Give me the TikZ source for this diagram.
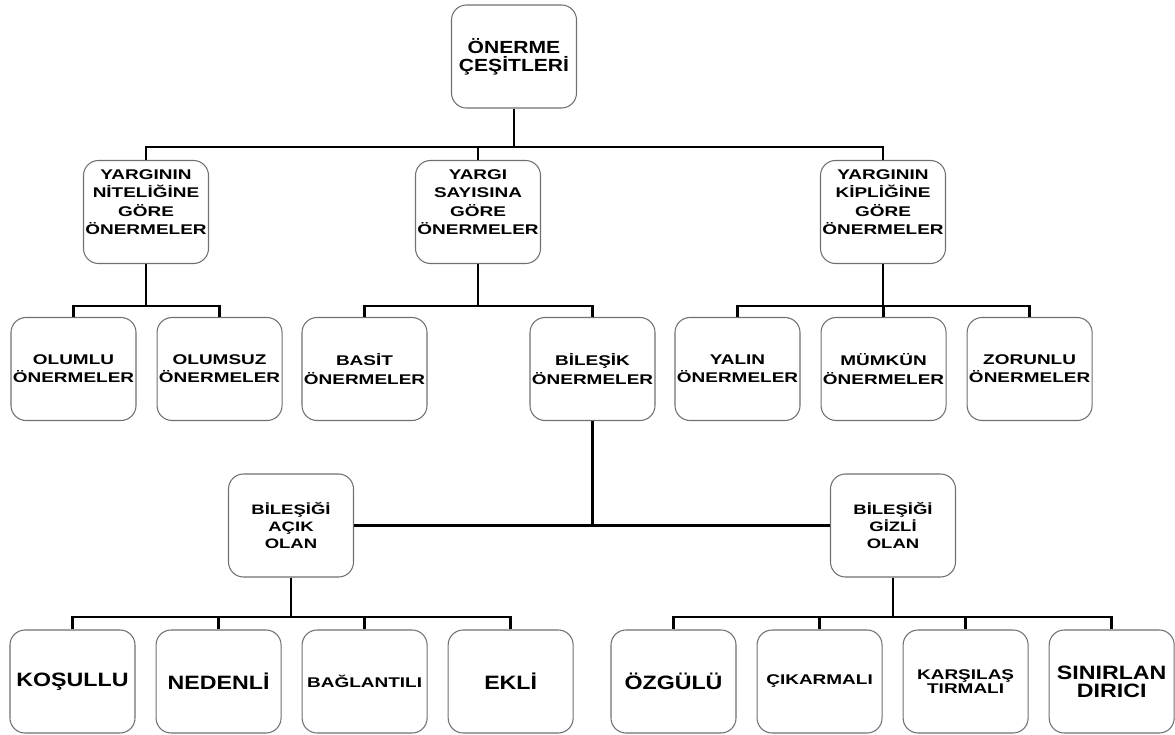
\documentclass[tikz,border=0pt]{standalone}
\usepackage{fontspec}
\setmainfont{Liberation Sans}
\newfontfamily\boxfont[FakeStretch=1.35]{Liberation Sans}
\newfontfamily\bigfont[FakeStretch=1.2]{Liberation Sans}
\usetikzlibrary{positioning}
\definecolor{BoxGray}{HTML}{707070}

\begin{document}
\begin{tikzpicture}[node distance=.4cm,
  box/.style={draw=BoxGray,line width=.6pt,rounded corners=.3cm,fill=white,
    minimum width=2.5cm,minimum height=2.06cm,inner xsep=.5pt,inner ysep=1pt,align=center,
    font=\boxfont\bfseries\fontsize{8}{10.4}\selectfont},
  topbox/.style={box,font=\bigfont\bfseries\fontsize{10}{10.3}\selectfont},
  raisedbox/.style={box,text depth=.4cm},
  midbox/.style={box,font=\boxfont\bfseries\fontsize{7.8}{9.6}\selectfont},
  bigbox/.style={box,font=\bigfont\bfseries\fontsize{11}{10.3}\selectfont},
  tightbox/.style={box,font=\boxfont\bfseries\fontsize{8}{7}\selectfont},
  conn/.style={line width=1.5pt}]
\useasboundingbox (0,0) rectangle (23.5,-14.7);
% levels
\node[topbox] (onerme) at (10.28,-1.13) {ÖNERME\\ÇEŞİTLERİ};
\node[raisedbox] (nitelik) at (2.92,-4.24) {YARGININ\\NİTELİĞİNE\\GÖRE\\ÖNERMELER};
\node[raisedbox] (sayi) at (9.56,-4.24) {YARGI\\SAYISINA\\GÖRE\\ÖNERMELER};
\node[raisedbox] (kiplik) at (17.66,-4.24) {YARGININ\\KİPLİĞİNE\\GÖRE\\ÖNERMELER};
\node[box] (olumlu) at (1.47,-7.38) {OLUMLU\\ÖNERMELER};
\node[box,right=of olumlu] (olumsuz) {OLUMSUZ\\ÖNERMELER};
\node[box] (basit) at (7.29,-7.38) {BASİT\\ÖNERMELER};
\node[box] (bilesik) at (11.85,-7.38) {BİLEŞİK\\ÖNERMELER};
\node[box] (yalin) at (14.75,-7.38) {YALIN\\ÖNERMELER};
\node[box,right=of yalin] (mumkun) {MÜMKÜN\\ÖNERMELER};
\node[box,right=of mumkun] (zorunlu) {ZORUNLU\\ÖNERMELER};
\node[midbox] (acik) at (5.82,-10.51) {BİLEŞİĞİ\\AÇIK\\OLAN};
\node[midbox] (gizli) at (17.86,-10.51) {BİLEŞİĞİ\\GİZLİ\\OLAN};
\node[bigbox] (kosullu) at (1.45,-13.63) {KOŞULLU};
\node[bigbox,right=of kosullu] (nedenli) {NEDENLİ};
\node[box,right=of nedenli] (baglantili) {BAĞLANTILI};
\node[bigbox,right=of baglantili] (ekli) {EKLİ};
\node[bigbox] (ozgulu) at (13.47,-13.63) {ÖZGÜLÜ};
\node[box,right=of ozgulu] (cikarmali) {ÇIKARMALI};
\node[tightbox,right=of cikarmali] (karsilas) {KARŞILAŞ\\TIRMALI};
\node[bigbox,right=of karsilas] (sinirlan) {SINIRLAN\\DIRICI};
% buses
\coordinate (bus1) at (0,-2.94);
\coordinate (bus2) at (0,-6.12);
\coordinate (bus3) at (0,-12.34);
\draw[conn] (onerme.south) -- (onerme.south |- bus1);
\foreach \c in {nitelik,sayi,kiplik}
  \draw[conn] (onerme.south |- bus1) -| (\c.north);
\foreach \p/\cs in {nitelik/{olumlu,olumsuz},sayi/{basit,bilesik},kiplik/{yalin,mumkun,zorunlu}}
  \foreach \c in \cs
    \draw[conn] (\p.south) -- (\p.south |- bus2) -| (\c.north);
\draw[conn] (bilesik.south) -- (bilesik.south |- acik.east);
\draw[conn] (acik.east) -- (gizli.west);
\foreach \p/\cs in {acik/{kosullu,nedenli,baglantili,ekli},gizli/{ozgulu,cikarmali,karsilas,sinirlan}}
  \foreach \c in \cs
    \draw[conn] (\p.south) -- (\p.south |- bus3) -| (\c.north);
\end{tikzpicture}
\end{document}
